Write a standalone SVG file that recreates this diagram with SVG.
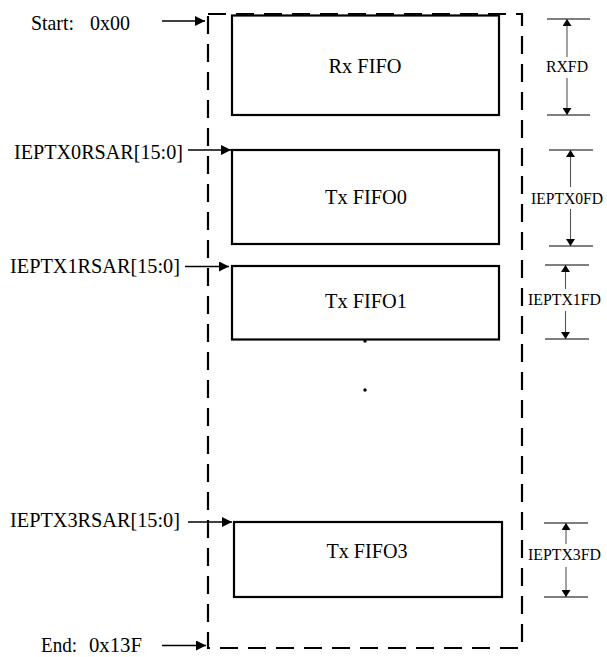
<svg xmlns="http://www.w3.org/2000/svg" width="607" height="657" viewBox="0 0 607 657">
<style>
.bg{fill:#fff}
.box{fill:none;stroke:#000;stroke-width:2.2}
.frame{fill:none;stroke:#000;stroke-width:2.2;stroke-dasharray:18 10}
.arr{fill:none;stroke:#000;stroke-width:1.4}
.tick{fill:none;stroke:#555;stroke-width:1.3}
.dim{fill:none;stroke:#555;stroke-width:1.1}
.lbl{font-size:22px}
.big{font-size:22px;text-anchor:middle}
.sm{font-size:16.5px}
</style>
<defs>
<marker id="ah" markerUnits="userSpaceOnUse" markerWidth="10" markerHeight="10" refX="10" refY="5" orient="auto">
<path d="M0,0 L10,5 L0,10 Z" fill="#000"/>
</marker>
<marker id="dh" markerUnits="userSpaceOnUse" markerWidth="8" markerHeight="9" refX="7" refY="4.5" orient="auto">
<path d="M0,0 L7,4.5 L0,9 Z" fill="#000"/>
</marker>
</defs>
<rect class="bg" x="0" y="0" width="607" height="657"/>
<g font-family="'Liberation Serif', 'DejaVu Serif', serif" fill="#000">
<path id="frame" class="frame" d="M208,14 H522 V648 H208 Z"/>
<g id="rxfifo">
<rect class="box" x="232" y="15.5" width="267" height="99.5"/>
<text class="big" x="365" y="73" textLength="73" lengthAdjust="spacingAndGlyphs">Rx FIFO</text>
</g>
<g id="txfifo0">
<rect class="box" x="232" y="150" width="267" height="94"/>
<text class="big" x="366" y="204" textLength="82" lengthAdjust="spacingAndGlyphs">Tx FIFO0</text>
</g>
<g id="txfifo1">
<rect class="box" x="232" y="266" width="267" height="73.5"/>
<text class="big" x="366" y="307.5" textLength="82" lengthAdjust="spacingAndGlyphs">Tx FIFO1</text>
</g>
<g id="txfifo3">
<rect class="box" x="234" y="522" width="268" height="75"/>
<text class="big" x="367" y="558" textLength="81" lengthAdjust="spacingAndGlyphs">Tx FIFO3</text>
</g>
<g id="dots">
<circle cx="365" cy="341" r="1.7" fill="#000"/>
<circle cx="365" cy="390" r="1.7" fill="#000"/>
</g>
<g id="labels">
<text class="lbl" x="31" y="30" textLength="43" lengthAdjust="spacingAndGlyphs">Start:</text>
<text class="lbl" x="90" y="30" textLength="40" lengthAdjust="spacingAndGlyphs">0x00</text>
<text class="lbl" x="14" y="159" textLength="169" lengthAdjust="spacingAndGlyphs">IEPTX0RSAR[15:0]</text>
<text class="lbl" x="10" y="273" textLength="170" lengthAdjust="spacingAndGlyphs">IEPTX1RSAR[15:0]</text>
<text class="lbl" x="10" y="527" textLength="170" lengthAdjust="spacingAndGlyphs">IEPTX3RSAR[15:0]</text>
<text class="lbl" x="41" y="652" textLength="36" lengthAdjust="spacingAndGlyphs">End:</text>
<text class="lbl" x="89" y="652" textLength="53" lengthAdjust="spacingAndGlyphs">0x13F</text>
</g>
<g id="connectors">
<line class="arr" x1="162" y1="21" x2="205" y2="21" marker-end="url(#ah)"/>
<line class="arr" x1="188" y1="150" x2="231" y2="150" marker-end="url(#ah)"/>
<line class="arr" x1="185" y1="266.5" x2="229" y2="266.5" marker-end="url(#ah)"/>
<line class="arr" x1="188" y1="522" x2="232" y2="522" marker-end="url(#ah)"/>
<line class="arr" x1="162" y1="645.5" x2="206" y2="645.5" marker-end="url(#ah)"/>
</g>
<g id="dim-rxfd">
<line class="tick" x1="547" y1="19" x2="590" y2="19"/>
<line class="tick" x1="547" y1="115" x2="590" y2="115"/>
<line class="dim" x1="567" y1="57" x2="567" y2="19" marker-end="url(#dh)"/>
<line class="dim" x1="567" y1="78" x2="567" y2="115" marker-end="url(#dh)"/>
<text class="sm" x="546" y="72" textLength="42" lengthAdjust="spacingAndGlyphs">RXFD</text>
</g>
<g id="dim-ieptx0fd">
<line class="tick" x1="549" y1="150" x2="593" y2="150"/>
<line class="tick" x1="549" y1="246" x2="593" y2="246"/>
<line class="dim" x1="570.5" y1="187" x2="570.5" y2="150" marker-end="url(#dh)"/>
<line class="dim" x1="570.5" y1="209" x2="570.5" y2="246" marker-end="url(#dh)"/>
<text class="sm" x="531" y="204" font-size="16" style="font-size:16px" textLength="72" lengthAdjust="spacingAndGlyphs">IEPTX0FD</text>
</g>
<g id="dim-ieptx1fd">
<line class="tick" x1="545" y1="265" x2="589" y2="265"/>
<line class="tick" x1="545" y1="339" x2="589" y2="339"/>
<line class="dim" x1="565.5" y1="289" x2="565.5" y2="265" marker-end="url(#dh)"/>
<line class="dim" x1="565.5" y1="311" x2="565.5" y2="339" marker-end="url(#dh)"/>
<text class="sm" x="528" y="305" textLength="73" lengthAdjust="spacingAndGlyphs">IEPTX1FD</text>
</g>
<g id="dim-ieptx3fd">
<line class="tick" x1="544" y1="523" x2="588" y2="523"/>
<line class="tick" x1="544" y1="597" x2="588" y2="597"/>
<line class="dim" x1="566" y1="544" x2="566" y2="523" marker-end="url(#dh)"/>
<line class="dim" x1="566" y1="567" x2="566" y2="597" marker-end="url(#dh)"/>
<text class="sm" x="528" y="560" textLength="73" lengthAdjust="spacingAndGlyphs">IEPTX3FD</text>
</g>
</g>
</svg>
